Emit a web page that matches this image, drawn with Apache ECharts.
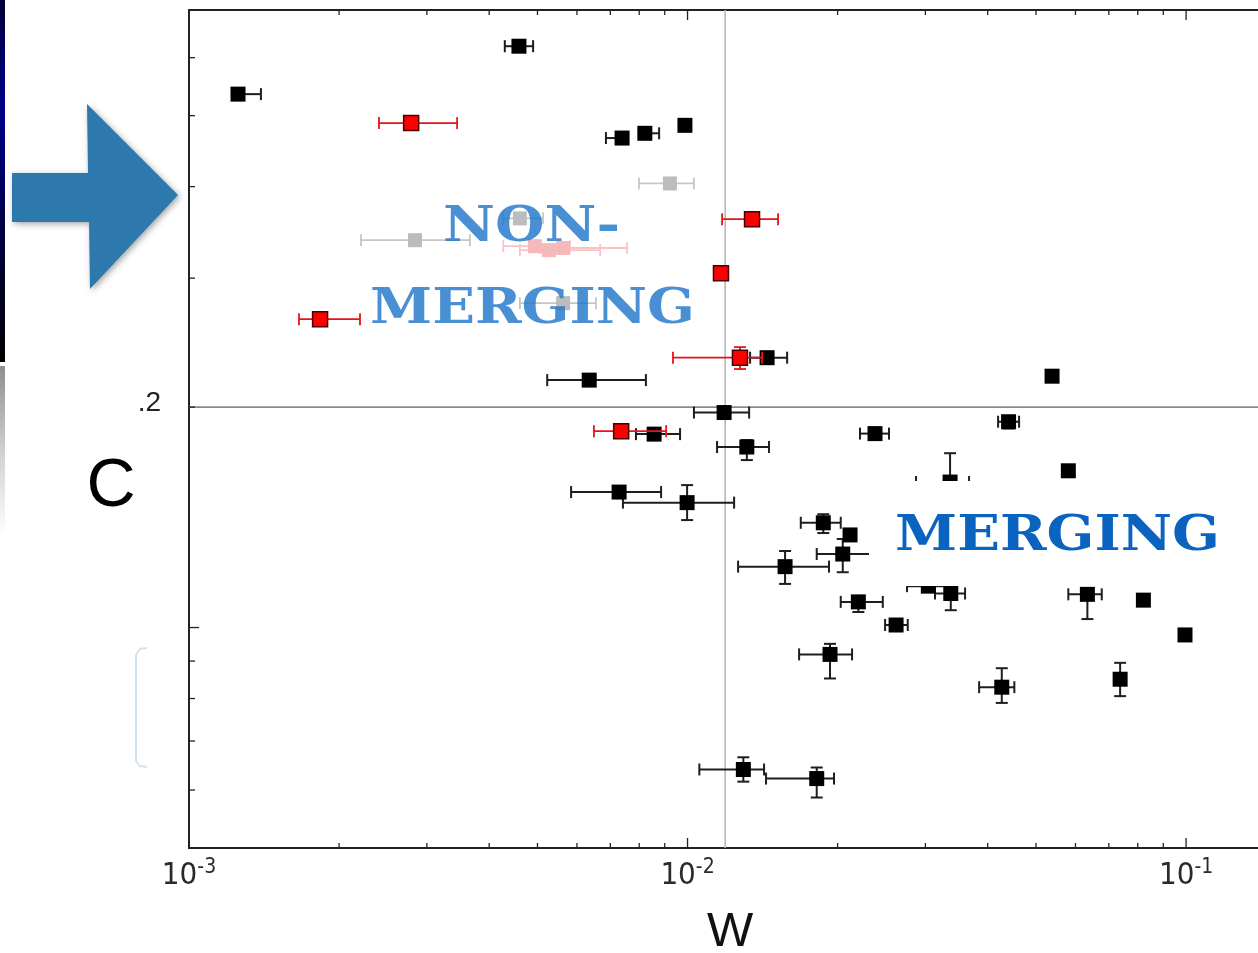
<!DOCTYPE html>
<html><head><meta charset="utf-8">
<script src="https://cdn.jsdelivr.net/npm/echarts@6/dist/echarts.min.js"></script>
<style>html,body{margin:0;padding:0;background:#fff;overflow:hidden}#c{width:1258px;height:953px}</style>
</head><body><div id="c"></div>
<script>
// ---------------- data ----------------
const X_MIN = 0.001, X_MAX = 0.1394, Y_MIN = 0.05, Y_MAX = 0.697;
const xMajorTicks = [0.001, 0.01, 0.1];
const xMinorTicks = [0.002,0.003,0.004,0.005,0.006,0.007,0.008,0.009,0.02,0.03,0.04,0.05,0.06,0.07,0.08,0.09];
const yMajorTicks = [0.1];
const yMinorTicks = [0.06,0.07,0.08,0.09,0.2,0.3,0.4,0.5,0.6];
const yTickLabel = '.2';
const xAxisTitle = 'W';
const yAxisTitle = 'C';
const vLineX = 0.0119;
const hLineY = 0.2;
const labelNonMerging = ['NON-', 'MERGING'];
const labelMerging = 'MERGING';

// black points
const blackX   = [0.00459,0.001254,0.00739,0.00821,0.00988,0.00635,0.01444,0.05385,0.01184,0.00857,0.01315,0.00729,0.00998,0.02377,0.04405,0.03362,0.02118,0.01872,0.02048,0.01569,0.02201,0.02620,0.03041,0.03373,0.06339,0.0821,0.05805,0.0995,0.01931,0.04269,0.07374,0.01294,0.01816];
const blackY   = [0.622,0.535,0.466,0.473,0.485,0.2177,0.2336,0.2204,0.1966,0.1837,0.1764,0.1531,0.1481,0.1840,0.1910,0.1580,0.1338,0.1390,0.1260,0.1211,0.1084,0.1008,0.1139,0.1113,0.1110,0.1090,0.1637,0.0977,0.0919,0.0829,0.0850,0.0640,0.0622];
const blackXLo = [0.00430,0.00122,0.00686,0.00799,null,0.00523,0.01335,null,0.01030,0.00788,0.01146,0.00584,0.00742,0.02218,0.04197,0.02873,null,0.01687,0.01816,0.01263,0.02029,0.02490,0.02756,0.03136,0.05805,null,null,null,0.01674,0.03845,null,0.01056,0.01437];
const blackXHi = [0.00490,0.001394,0.00760,0.00877,null,0.00825,0.01584,null,0.01329,0.00966,0.01457,0.00885,0.01240,0.02536,0.04624,0.03670,null,0.02029,0.02433,0.01922,0.02464,0.02765,0.03362,0.03603,0.06774,null,null,null,0.02138,0.04524,null,0.01424,0.01967];
const blackYLo = [null,null,null,null,null,null,null,null,null,null,0.1693,null,0.1402,null,0.1870,0.1450,null,0.1346,0.1190,0.1147,0.1050,null,null,0.1056,0.1027,null,null,null,0.0852,0.0789,0.0806,0.0616,0.0586];
const blackYHi = [null,null,null,null,null,null,null,null,null,null,0.1803,null,0.1565,null,0.1940,0.1730,null,0.1428,0.1321,0.1272,0.1100,null,null,0.1150,0.1130,null,null,null,0.0950,0.0880,0.0895,0.0665,0.0644];

// red points
const redX   = [0.00279,0.01347,0.01167,0.001832,0.01274,0.00736];
const redY   = [0.4884,0.3611,0.3047,0.2637,0.2336,0.1854];
const redXLo = [0.002405,0.01173,null,0.001662,0.00935,0.00649];
const redXHi = [0.00345,0.01519,null,0.002203,0.01411,0.00906];
const redYLo = [null,null,null,null,0.2254,0.1814];
const redYHi = [null,null,null,null,0.2415,0.1890];

// grey points
const greyX   = [0.00922,0.00284,0.00461,0.00563];
const greyY   = [0.404,0.338,0.362,0.2773];
const greyXLo = [0.00799,0.002213,0.00427,0.00461];
const greyXHi = [0.01030,0.00366,0.00513,0.00655];

// pink points
const pinkX   = [0.00494,0.00527,0.00563];
const pinkY   = [0.3317,0.3276,0.3298];
const pinkXLo = [0.00427,0.00461,0.00506];
const pinkXHi = [0.00581,0.00668,0.00756];

// ---------------- chart ----------------
const NARROW = '"Liberation Sans Narrow","DejaVu Sans Condensed","Liberation Sans",sans-serif';
const SANS = '"Liberation Sans",Arial,sans-serif';
const TITLE_FONT_FAMILY = '"DejaVu Serif",serif';

function errSeries(X, Y, XLO, XHI, YLO, YHI, color, z, lw) {
  return {
    type: 'custom', z: z, silent: true, clip: true,
    data: X.map((x, i) => [x, Y[i]]),
    renderItem: function (params, api) {
      const i = params.dataIndex;
      const c = api.coord([X[i], Y[i]]);
      const st = { stroke: color, lineWidth: lw, fill: null };
      const cap = 6;
      const kids = [];
      if (XLO && XLO[i] != null) {
        const a = api.coord([XLO[i], Y[i]]), b = api.coord([XHI[i], Y[i]]);
        kids.push({ type: 'line', shape: { x1: a[0], y1: c[1], x2: b[0], y2: c[1] }, style: st });
        kids.push({ type: 'line', shape: { x1: a[0], y1: c[1] - cap, x2: a[0], y2: c[1] + cap }, style: st });
        kids.push({ type: 'line', shape: { x1: b[0], y1: c[1] - cap, x2: b[0], y2: c[1] + cap }, style: st });
      }
      if (YLO && YLO[i] != null) {
        const a = api.coord([X[i], YLO[i]]), b = api.coord([X[i], YHI[i]]);
        kids.push({ type: 'line', shape: { x1: c[0], y1: a[1], x2: c[0], y2: b[1] }, style: st });
        kids.push({ type: 'line', shape: { x1: c[0] - cap, y1: a[1], x2: c[0] + cap, y2: a[1] }, style: st });
        kids.push({ type: 'line', shape: { x1: c[0] - cap, y1: b[1], x2: c[0] + cap, y2: b[1] }, style: st });
      }
      return { type: 'group', children: kids };
    }
  };
}
function markerSeries(X, Y, fill, border, size, z) {
  return {
    type: 'scatter', z: z, silent: true, symbol: 'rect', symbolSize: size,
    data: X.map((x, i) => [x, Y[i]]),
    itemStyle: { color: fill, borderColor: border || fill, borderWidth: border ? 1.5 : 0, opacity: 1 }
  };
}
function tickSeries(vals, len, horizontal) {
  return {
    type: 'custom', z: 20, silent: true, clip: false,
    data: vals.map(v => horizontal ? [v, Y_MIN] : [X_MIN, v]),
    renderItem: function (params, api) {
      const v = vals[params.dataIndex];
      const st = { stroke: '#222', lineWidth: 1.3 };
      if (horizontal) {
        const b = api.coord([v, Y_MIN]), t = api.coord([v, Y_MAX]);
        return { type: 'group', children: [
          { type: 'line', shape: { x1: b[0], y1: b[1], x2: b[0], y2: b[1] - len }, style: st },
          { type: 'line', shape: { x1: t[0], y1: t[1], x2: t[0], y2: t[1] + len }, style: st }
        ]};
      }
      const l = api.coord([X_MIN, v]);
      return { type: 'line', shape: { x1: l[0], y1: l[1], x2: l[0] + len, y2: l[1] }, style: st };
    }
  };
}
const refLineSeries = {
  type: 'custom', z: 1, silent: true, clip: true,
  data: [[vLineX, hLineY]],
  renderItem: function (params, api) {
    const v0 = api.coord([vLineX, Y_MIN]), v1 = api.coord([vLineX, Y_MAX]);
    const h0 = api.coord([X_MIN, hLineY]), h1 = api.coord([X_MAX, hLineY]);
    return { type: 'group', children: [
      { type: 'line', shape: { x1: v0[0], y1: v0[1], x2: v1[0], y2: v1[1] }, style: { stroke: '#b8b8b8', lineWidth: 1.6 } },
      { type: 'line', shape: { x1: h0[0], y1: h0[1], x2: h1[0], y2: h1[1] }, style: { stroke: '#8a8a8a', lineWidth: 1.6 } }
    ]};
  }
};

const mctx = document.createElement('canvas').getContext('2d');
function stretch(str, font, targetW) { mctx.font = font; return targetW / mctx.measureText(str).width; }
const TFONT = 'bold 48px ' + TITLE_FONT_FAMILY;

function titleText(str, x, y, w, fill, z) {
  return { type: 'text', x: x, y: y, scaleX: stretch(str, TFONT, w), z: z,
    style: { text: str, font: TFONT, fill: fill, textAlign: 'left', align: 'left', textVerticalAlign: 'middle', verticalAlign: 'middle' } };
}
const AXLINE = { show: true, lineStyle: { color: '#222', width: 2 } };

const chart = echarts.init(document.getElementById('c'));
chart.setOption({
  animation: false,
  backgroundColor: '#fff',
  grid: { show: false, left: 189, top: 10, right: 0, bottom: 105 },
  xAxis: [{
    type: 'log', logBase: 10, min: X_MIN, max: X_MAX, position: 'bottom',
    axisLine: AXLINE, axisTick: { show: false }, splitLine: { show: false },
    axisLabel: {
      margin: 9, showMinLabel: true, showMaxLabel: false,
      formatter: function (v) {
        const e = Math.log10(v), r = Math.round(e);
        if (Math.abs(e - r) > 1e-4) return '';
        return '{b|10}{s|' + r + '}';
      },
      rich: {
        b: { fontSize: 31, fontFamily: NARROW, color: '#2a2a2a', verticalAlign: 'bottom', lineHeight: 34 },
        s: { fontSize: 21, fontFamily: NARROW, color: '#2a2a2a', verticalAlign: 'top', lineHeight: 22 }
      }
    }
  }, {
    type: 'log', logBase: 10, min: X_MIN, max: X_MAX, position: 'top',
    axisLine: AXLINE, axisTick: { show: false }, splitLine: { show: false }, axisLabel: { show: false }
  }],
  yAxis: {
    type: 'log', logBase: 10, min: Y_MIN, max: Y_MAX,
    axisLine: AXLINE, axisTick: { show: false }, splitLine: { show: false }, axisLabel: { show: false }
  },
  series: [
    refLineSeries,
    errSeries(greyX, greyY, greyXLo, greyXHi, null, null, '#c6c6c6', 2, 1.8),
    markerSeries(greyX, greyY, '#bcbcbc', null, 14, 3),
    errSeries(pinkX, pinkY, pinkXLo, pinkXHi, null, null, '#f6c4c4', 2, 1.8),
    markerSeries(pinkX, pinkY, '#f5b9b9', null, 14, 3),
    errSeries(blackX, blackY, blackXLo, blackXHi, blackYLo, blackYHi, '#1e1e1e', 4, 2),
    markerSeries(blackX, blackY, '#000', null, 15, 5),
    errSeries(redX, redY, redXLo, redXHi, redYLo, redYHi, '#e8121a', 6, 1.8),
    markerSeries(redX, redY, '#ff0000', '#4a0000', 15, 7),
    tickSeries(xMajorTicks, 10, true),
    tickSeries(xMinorTicks, 5, true),
    tickSeries(yMajorTicks, 10, false),
    tickSeries(yMinorTicks, 6, false)
  ],
  graphic: [
    { type: 'rect', z: 100, shape: { x: 0, y: 0, width: 5, height: 362 },
      style: { fill: new echarts.graphic.LinearGradient(0, 0, 0, 1, [
        { offset: 0, color: '#000038' }, { offset: 0.3, color: '#00008c' }, { offset: 0.65, color: '#000040' }, { offset: 1, color: '#000000' }]) } },
    { type: 'rect', z: 100, shape: { x: 0, y: 366, width: 5, height: 170 },
      style: { fill: new echarts.graphic.LinearGradient(0, 0, 0, 1, [
        { offset: 0, color: '#8e8e8e' }, { offset: 0.5, color: '#d0d0d0' }, { offset: 1, color: '#ffffff' }]) } },
    { type: 'polygon', z: 100,
      shape: { points: [[12, 173], [88, 173], [87, 104], [178, 195], [90, 289], [89, 222], [12, 222]] },
      style: { fill: '#2d78ad', shadowBlur: 6, shadowColor: 'rgba(0,0,0,0.35)', shadowOffsetX: 2, shadowOffsetY: 2 } },
    { type: 'text', z: 100, x: 111, y: 487,
      style: { text: yAxisTitle, font: '68px ' + SANS, fill: '#000', textAlign: 'center', align: 'center', textVerticalAlign: 'middle', verticalAlign: 'middle' } },
    { type: 'text', z: 100, x: 161, y: 403,
      style: { text: yTickLabel, font: '28px ' + SANS, fill: '#222', textAlign: 'right', align: 'right', textVerticalAlign: 'middle', verticalAlign: 'middle' } },
    { type: 'polyline', z: 100,
      shape: { points: [[147, 648], [140, 649], [136, 655], [136, 761], [140, 766], [147, 767]] },
      style: { stroke: '#d3e3ee', lineWidth: 2, fill: null } },
    { type: 'text', z: 100, x: 730, y: 932,
      style: { text: xAxisTitle, font: '49px ' + SANS, fill: '#111', textAlign: 'center', align: 'center', textVerticalAlign: 'middle', verticalAlign: 'middle' } },
    titleText(labelNonMerging[0], 443, 229, 177, 'rgba(26,115,200,0.8)', 110),
    titleText(labelNonMerging[1], 370, 311, 325, 'rgba(26,115,200,0.8)', 110),
    { type: 'rect', z: 108, shape: { x: 869, y: 481, width: 400, height: 105 }, style: { fill: '#fff' } },
    titleText(labelMerging, 895, 538, 325, '#0a64bf', 110)
  ]
});
</script>
</body></html>
